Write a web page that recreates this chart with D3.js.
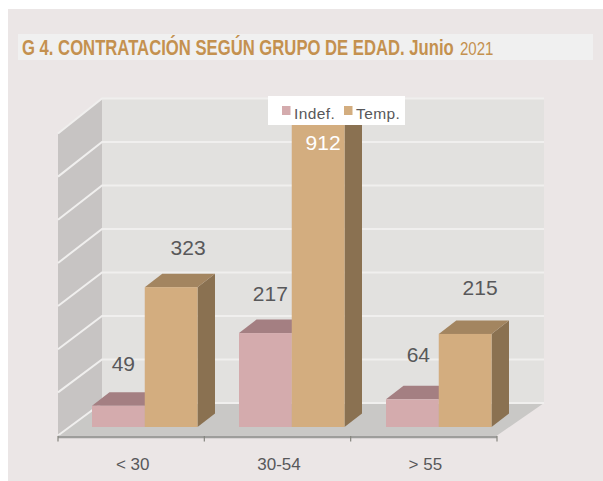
<!DOCTYPE html>
<html><head><meta charset="utf-8">
<script src="https://cdn.jsdelivr.net/npm/d3@7"></script>
<style>html,body{margin:0;padding:0;background:#fff}svg{display:block}</style>
</head><body><svg id="c" width="603" height="481"></svg>
<script>
const categories = ["< 30", "30-54", "> 55"];
const seriesNames = ["Indef.", "Temp."];
const indef = [49, 217, 64];
const temp = [323, 912, 215];
const gridTicks = [0, 100, 200, 300, 400, 500, 600, 700];
// label nudges, in pixels, relative to the bar's top
const indefNudge = [[5, -35], [5, -32], [6, -37]];
const tempNudge = [[17, -32], [5, 26], [15, -39]];

const colors = {
  panel: "#ebe6e6", band: "#f0f0f0", wall: "#e2e1df", side: "#c7c4c3", floor: "#c9c8c6",
  grid: "#f0efee", axis: "#9d9d9b", text: "#58585a", title: "#c4914f",
  front: ["#d4abad", "#d3ad7f"], top: ["#a47f82", "#a38560"], right: ["#a47f82", "#8a7151"]
};
const svg = d3.select("#c");
const xL = 58, xR = 497, depth = 44, wallW = 442;
const yFront = d3.scaleLinear().domain([0, 700]).range([435.5, 133.5]);
const yBack = d3.scaleLinear().domain([0, 700]).range([403, 98.5]);
const yBar = d3.scaleLinear().domain([0, 700]).range([427, 124]).clamp(true);
const x = d3.scaleBand().domain(categories).range([xL, xR]);
const xBars = d3.scaleBand().domain(categories).range([92, 533]);
const barW = 105.5;
const xs = d3.scaleBand().domain(seriesNames).range([0, barW]);
const bdx = 17.5, bdy = -13.5;
const poly = p => p.map(q => q.join(",")).join(" ");

svg.append("rect").attr("x", 8).attr("y", 9).attr("width", 595).attr("height", 472).attr("fill", colors.panel);
svg.append("rect").attr("x", 18).attr("y", 34).attr("width", 575).attr("height", 26).attr("fill", colors.band);

// title: squeezed horizontally to the reference's condensed face
function fitText(sel, x0, width) {
  const len = sel.node().getComputedTextLength();
  sel.attr("transform", `translate(${x0},55) scale(${width / len},1)`);
}
const title = svg.append("g").attr("fill", colors.title).attr("font-family", "'Liberation Sans',sans-serif");
fitText(title.append("text").attr("font-weight", 700).attr("font-size", 23)
  .text("G 4. CONTRATACIÓN SEGÚN GRUPO DE EDAD. Junio"), 22, 432);
fitText(title.append("text").attr("font-size", 18.5).text("2021"), 460, 33.5);

// walls and floor
svg.append("rect").attr("x", xL + depth).attr("y", yBack(700)).attr("width", wallW).attr("height", yBack(0) - yBack(700)).attr("fill", colors.wall);
svg.append("polygon").attr("fill", colors.side)
  .attr("points", poly([[xL, yFront(700)], [xL + depth, yBack(700)], [xL + depth, yBack(0)], [xL, yFront(0)]]));
svg.append("polygon").attr("fill", colors.floor)
  .attr("points", poly([[xL, yFront(0)], [xL + depth, yBack(0)], [xL + depth + wallW, yBack(0)], [xR, yFront(0)]]));

// gridlines
svg.append("g").selectAll("polyline").data(gridTicks).join("polyline")
  .attr("fill", "none").attr("stroke", colors.grid).attr("stroke-width", 2)
  .attr("points", d => poly([[xL, yFront(d)], [xL + depth, yBack(d)], [xL + depth + wallW, yBack(d)]]));

// axis
const axis = svg.append("g").attr("transform", "translate(0,437)");
axis.append("line").attr("x1", xL).attr("x2", xR).attr("stroke", colors.axis).attr("stroke-width", 2.5);
axis.selectAll("line.t").data([...categories.map(c => x(c)), xR]).join("line").attr("class", "t")
  .attr("x1", d => d).attr("x2", d => d).attr("y1", -1).attr("y2", 4.5).attr("stroke", "#85857f").attr("stroke-width", 1.2);
svg.append("g").selectAll("text").data(categories).join("text")
  .attr("x", d => x(d) + x.bandwidth() / 2 + 1.5).attr("y", 470)
  .attr("text-anchor", "middle").attr("font-family", "'Liberation Sans',sans-serif")
  .attr("font-size", 17).attr("fill", colors.text).text(d => d);

// bars
const seriesValues = [indef, temp];
categories.forEach((c, i) => {
  seriesNames.forEach((s, k) => {
    const v = seriesValues[k][i];
    const x0 = xBars(c) + xs(s), w = xs.bandwidth(), y1 = yBar(0), y0 = yBar(v);
    const g = svg.append("g");
    g.append("polygon").attr("fill", colors.right[k])
      .attr("points", poly([[x0 + w, y0], [x0 + w + bdx, y0 + bdy], [x0 + w + bdx, y1 + bdy], [x0 + w, y1]]));
    g.append("polygon").attr("fill", colors.top[k])
      .attr("points", poly([[x0, y0], [x0 + bdx, y0 + bdy], [x0 + w + bdx, y0 + bdy], [x0 + w, y0]]));
    g.append("rect").attr("x", x0).attr("y", y0).attr("width", w).attr("height", y1 - y0).attr("fill", colors.front[k]);
  });
});

// value labels
seriesNames.forEach((s, k) => {
  const nudge = k === 0 ? indefNudge : tempNudge;
  categories.forEach((c, i) => {
    const v = seriesValues[k][i];
    svg.append("text")
      .attr("x", xBars(c) + xs(s) + xs.bandwidth() / 2 + nudge[i][0])
      .attr("y", yBar(v) + nudge[i][1])
      .attr("text-anchor", "middle").attr("font-family", "'Liberation Sans',sans-serif")
      .attr("font-size", 21).attr("fill", v > 700 ? "#ffffff" : colors.text).text(v);
  });
});

// legend
const leg = svg.append("g");
leg.append("rect").attr("x", 268).attr("y", 96).attr("width", 137).attr("height", 29).attr("fill", "#fff");
const legX = d3.scaleOrdinal().domain(seriesNames).range([282, 344]);
seriesNames.forEach((s, k) => {
  leg.append("rect").attr("x", legX(s)).attr("y", 106).attr("width", 8.5).attr("height", 9).attr("fill", colors.front[k]);
  leg.append("text").attr("x", legX(s) + 12).attr("y", 119).attr("font-family", "'Liberation Sans',sans-serif")
    .attr("font-size", 15.5).attr("letter-spacing", 0.4).attr("fill", colors.text).text(s);
});
</script></body></html>
